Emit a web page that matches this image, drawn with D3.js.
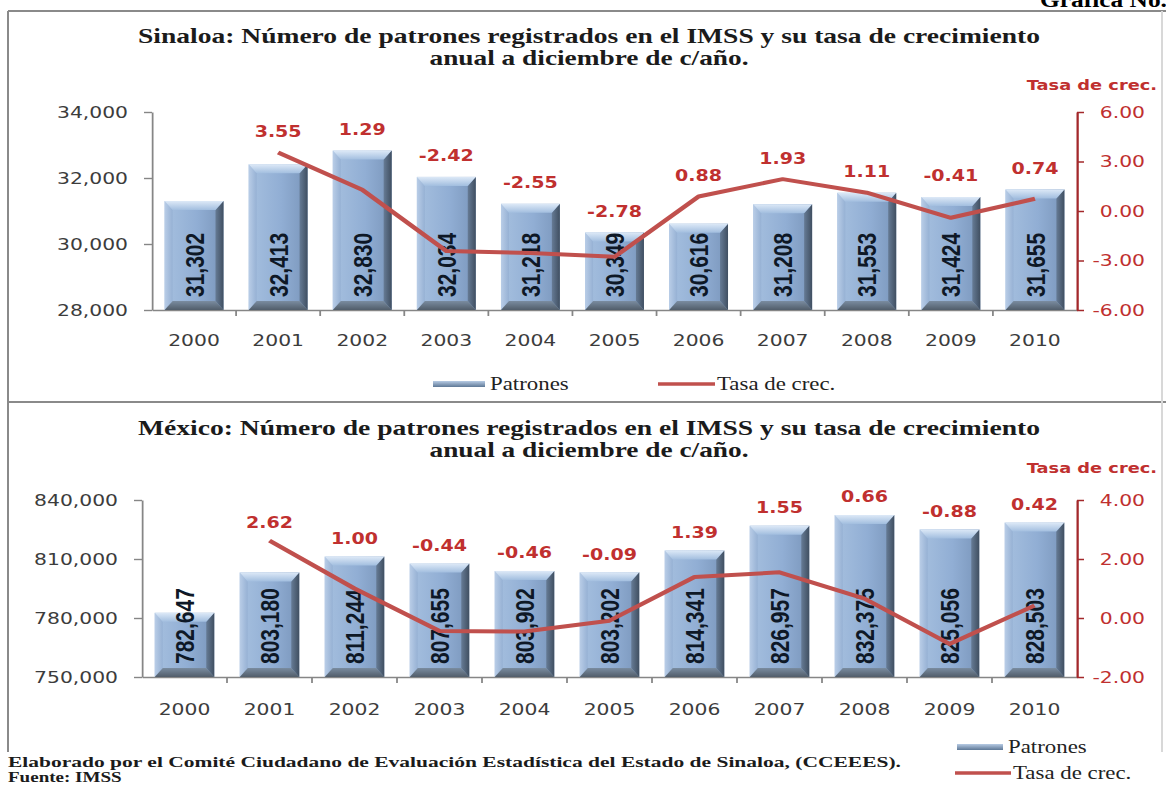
<!DOCTYPE html>
<html>
<head>
<meta charset="utf-8">
<script src="https://cdn.jsdelivr.net/npm/d3@7"></script>
<style>
  body { margin: 0; background: #fff; }
  svg { display: block; }
</style>
</head>
<body>
<svg id="chart" width="1166" height="785"></svg>
<script>
// ---- data ----
var years = ['2000', '2001', '2002', '2003', '2004', '2005', '2006', '2007', '2008', '2009', '2010'];
var sinaloaPatrones = [31302, 32413, 32830, 32034, 31218, 30349, 30616, 31208, 31553, 31424, 31655];
var sinaloaTasa = [null, 3.55, 1.29, -2.42, -2.55, -2.78, 0.88, 1.93, 1.11, -0.41, 0.74];
var mexicoPatrones = [782647, 803180, 811244, 807655, 803902, 803202, 814341, 826957, 832375, 825056, 828503];
var mexicoTasa = [null, 2.62, 1.00, -0.44, -0.46, -0.09, 1.39, 1.55, 0.66, -0.88, 0.42];
var sinaloaTicks = [28000, 30000, 32000, 34000];
var sinaloaTasaTicks = [-6, -3, 0, 3, 6];
var mexicoTicks = [750000, 780000, 810000, 840000];
var mexicoTasaTicks = [-2, 0, 2, 4];

// the source picture is stretched sideways, so everything is drawn narrow and scaled
var SX = 1.27;
function px(v) { return v / SX; }

var svg = d3.select('#chart');
var defs = svg.append('defs');

function grad(id, stops, vertical) {
    var lg = defs.append('linearGradient').attr('id', id)
        .attr('x1', 0).attr('y1', 0).attr('x2', vertical ? 0 : 1).attr('y2', vertical ? 1 : 0);
    stops.forEach(function (s) {
        lg.append('stop').attr('offset', s[0]).attr('stop-color', s[1]);
    });
}
grad('face', [['0%', '#a6c0df'], ['55%', '#91aed4'], ['100%', '#7a96bb']]);
grad('bevTop', [['0%', '#dde9f7'], ['100%', '#a2bedf']], true);
grad('bevLeft', [['0%', '#b9cde7'], ['100%', '#96b1d4']]);
grad('bevRight', [['0%', '#667b95'], ['100%', '#404f61']]);
grad('bevBot', [['0%', '#7a8ca0'], ['100%', '#515d6a']], true);
grad('legSwatch', [['0%', '#b7cbe4'], ['100%', '#5e7896']], true);

// frame of the page
var frame = svg.append('g').attr('stroke', '#8a8a8a').attr('stroke-width', 2);
frame.append('line').attr('x1', 8).attr('x2', 1166).attr('y1', 11).attr('y2', 11);
frame.append('line').attr('x1', 8).attr('x2', 8).attr('y1', 11).attr('y2', 752);
frame.append('line').attr('x1', 8).attr('x2', 1166).attr('y1', 402).attr('y2', 402);
frame.append('line').attr('x1', 1162).attr('x2', 1162).attr('y1', 11).attr('y2', 752).attr('stroke', '#d8d8d8');

var root = svg.append('g').attr('transform', 'scale(' + SX + ',1)');

var serif = '"Liberation Serif", "Times New Roman", serif';
var sans = '"DejaVu Sans", Verdana, sans-serif';
var red = '#c0302f';

root.append('text').attr('x', px(1040)).attr('y', 7)
    .attr('font-family', serif).attr('font-weight', 'bold').attr('font-size', 20)
    .text('Gráfica No.');

function drawPanel(cfg) {
    var g = root.append('g');
    var x = d3.scaleBand().domain(years).range([px(cfg.left), px(cfg.right)])
        .paddingInner(0.3).paddingOuter(0.15);
    var y = d3.scaleLinear().domain(d3.extent(cfg.yTicks)).range([cfg.bottom, cfg.top]);
    var y2 = d3.scaleLinear().domain(d3.extent(cfg.y2Ticks)).range([cfg.bottom, cfg.top]);
    var w = x.bandwidth();
    var base = y(cfg.yTicks[0]);

    // title
    g.selectAll('.title').data(cfg.title).enter().append('text')
        .attr('x', px(589)).attr('y', function (d, i) { return cfg.titleY + i * 22; })
        .attr('text-anchor', 'middle')
        .attr('font-family', serif).attr('font-weight', 'bold').attr('font-size', 21)
        .attr('fill', '#1b1b1b')
        .attr('textLength', function (d, i) { return px(cfg.titleWidths[i]); })
        .attr('lengthAdjust', 'spacingAndGlyphs')
        .text(function (d) { return d; });

    // axes
    var ax = g.append('g').attr('transform', 'translate(' + px(cfg.left) + ',0)')
        .call(d3.axisLeft(y).tickValues(cfg.yTicks).tickFormat(d3.format(','))
            .tickSize(px(8)).tickSizeOuter(0).tickPadding(px(16)));
    ax.select('.domain').attr('stroke', '#868686').attr('stroke-width', 1.4);
    ax.selectAll('.tick line').attr('stroke', '#868686').attr('stroke-width', 1.4);
    ax.selectAll('text').attr('font-family', sans).attr('font-size', 16).attr('fill', '#3c3c3c');

    var xa = g.append('g').attr('transform', 'translate(0,' + base + ')')
        .call(d3.axisBottom(x).tickSize(0).tickPadding(cfg.xPad).tickSizeOuter(0));
    xa.select('.domain').attr('stroke', '#868686').attr('stroke-width', 1.4);
    xa.selectAll('text').attr('font-family', sans).attr('font-size', 16).attr('fill', '#3c3c3c');
    g.selectAll('.xb').data(years.slice(1)).enter().append('line')
        .attr('x1', function (d) { return x(d) - (x.step() - w) / 2; })
        .attr('x2', function (d) { return x(d) - (x.step() - w) / 2; })
        .attr('y1', base).attr('y2', base + 6)
        .attr('stroke', '#868686').attr('stroke-width', 1.4);

    var ra = g.append('g').attr('transform', 'translate(' + px(cfg.right) + ',0)')
        .call(d3.axisRight(y2).tickValues(cfg.y2Ticks)
            .tickFormat(function (d) { return d.toFixed(2); })
            .tickSize(px(7)).tickSizeOuter(0));
    ra.select('.domain').attr('stroke', '#a3282b').attr('stroke-width', 1.8);
    ra.selectAll('.tick line').attr('stroke', '#a3282b').attr('stroke-width', 1.5);
    ra.selectAll('text').attr('text-anchor', 'end').attr('x', px(68))
        .attr('font-family', sans).attr('font-size', 16).attr('fill', red);

    g.append('text').attr('x', px(1157)).attr('y', cfg.tasaY).attr('text-anchor', 'end')
        .attr('font-family', sans).attr('font-weight', 'bold').attr('font-size', 14)
        .attr('fill', red).text('Tasa de crec.');

    // bars with bevel
    var data = years.map(function (yr, i) {
        return { year: yr, v: cfg.values[i], r: cfg.rates[i] };
    });
    var bx = px(8), by = 9;
    var bar = g.selectAll('.bar').data(data).enter().append('g').attr('class', 'bar');
    bar.each(function (d) {
        var s = d3.select(this);
        var x0 = x(d.year), x1 = x0 + w, y0 = y(d.v), y1 = base;
        function poly(pts, fill) {
            s.append('polygon').attr('points', pts.map(function (p) { return p.join(','); }).join(' '))
                .attr('fill', fill);
        }
        s.append('rect').attr('x', x0).attr('y', y0).attr('width', w).attr('height', y1 - y0)
            .attr('fill', 'url(#face)');
        poly([[x0, y0], [x0 + bx, y0 + by], [x0 + bx, y1 - by], [x0, y1]], 'url(#bevLeft)');
        poly([[x1, y0], [x1 - bx, y0 + by], [x1 - bx, y1 - by], [x1, y1]], 'url(#bevRight)');
        poly([[x0, y1], [x0 + bx, y1 - by], [x1 - bx, y1 - by], [x1, y1]], 'url(#bevBot)');
        poly([[x0, y0], [x1, y0], [x1 - bx, y0 + by], [x0 + bx, y0 + by]], 'url(#bevTop)');
    });

    // growth-rate line
    var line = d3.line()
        .defined(function (d) { return d.r != null; })
        .x(function (d) { return x(d.year) + w / 2; })
        .y(function (d) { return y2(d.r); });
    g.append('path').datum(data).attr('d', line)
        .attr('fill', 'none').attr('stroke', '#c0504d').attr('stroke-width', 4)
        .attr('stroke-linejoin', 'round');

    // labels
    bar.append('text')
        .attr('transform', function (d) {
            return 'translate(' + (x(d.year) + w / 2) + ',' + (base - 13) + ') rotate(-90)';
        })
        .attr('dy', '0.36em')
        .attr('font-family', '"Liberation Sans", Arial, sans-serif').attr('font-weight', 'bold')
        .attr('font-size', 21).attr('fill', '#0e1826')
        .text(function (d) { return d3.format(',')(d.v); });

    g.selectAll('.rl').data(data.filter(function (d) { return d.r != null; })).enter().append('text')
        .attr('x', function (d) { return x(d.year) + w / 2; })
        .attr('y', function (d) { return Math.min(y(d.v), y2(d.r)) - cfg.labelGap; })
        .attr('dy', '0.36em').attr('text-anchor', 'middle')
        .attr('font-family', sans).attr('font-weight', 'bold').attr('font-size', 15)
        .attr('fill', red)
        .text(function (d) { return d.r.toFixed(2); });

    // legend
    var lg = g.append('g').attr('font-family', serif).attr('font-size', 18).attr('fill', '#222');
    var L = cfg.legend;
    lg.append('rect').attr('x', px(L.sx)).attr('y', L.sy - 3).attr('width', px(L.sw)).attr('height', 6)
        .attr('fill', 'url(#legSwatch)');
    lg.append('text').attr('x', px(L.sx + L.sw + 5)).attr('y', L.sy + 6).text('Patrones');
    lg.append('line').attr('x1', px(L.lx)).attr('x2', px(L.lx + L.lw)).attr('y1', L.ly).attr('y2', L.ly)
        .attr('stroke', '#c0504d').attr('stroke-width', 3.5);
    lg.append('text').attr('x', px(L.lx + L.lw + 2)).attr('y', L.ly + 6).text('Tasa de crec.');
}

drawPanel({
    title: ['Sinaloa: Número de patrones registrados en el IMSS y su tasa de crecimiento',
        'anual a diciembre de c/año.'],
    titleWidths: [902, 319], titleY: 43, tasaY: 90,
    left: 152, right: 1077, top: 112, bottom: 310, xPad: 25, labelGap: 21,
    yTicks: sinaloaTicks, y2Ticks: sinaloaTasaTicks,
    values: sinaloaPatrones, rates: sinaloaTasa,
    legend: { sx: 433, sw: 52, sy: 384, lx: 658, lw: 57, ly: 384 }
});

drawPanel({
    title: ['México: Número de patrones registrados en el IMSS y su tasa de crecimiento',
        'anual a diciembre de c/año.'],
    titleWidths: [902, 319], titleY: 435, tasaY: 473,
    left: 142, right: 1077, top: 500, bottom: 677, xPad: 27, labelGap: 18,
    yTicks: mexicoTicks, y2Ticks: mexicoTasaTicks,
    values: mexicoPatrones, rates: mexicoTasa,
    legend: { sx: 957, sw: 46, sy: 747, lx: 955, lw: 56, ly: 773 }
});

// footer
root.append('text').attr('x', px(8)).attr('y', 767)
    .attr('font-family', serif).attr('font-weight', 'bold').attr('font-size', 15).attr('fill', '#1b1b1b')
    .attr('textLength', px(893)).attr('lengthAdjust', 'spacingAndGlyphs')
    .text('Elaborado por el Comité Ciudadano de Evaluación Estadística del Estado de Sinaloa, (CCEEES).');
root.append('text').attr('x', px(8)).attr('y', 782)
    .attr('font-family', serif).attr('font-weight', 'bold').attr('font-size', 15).attr('fill', '#1b1b1b')
    .text('Fuente: IMSS');
</script>
</body>
</html>
